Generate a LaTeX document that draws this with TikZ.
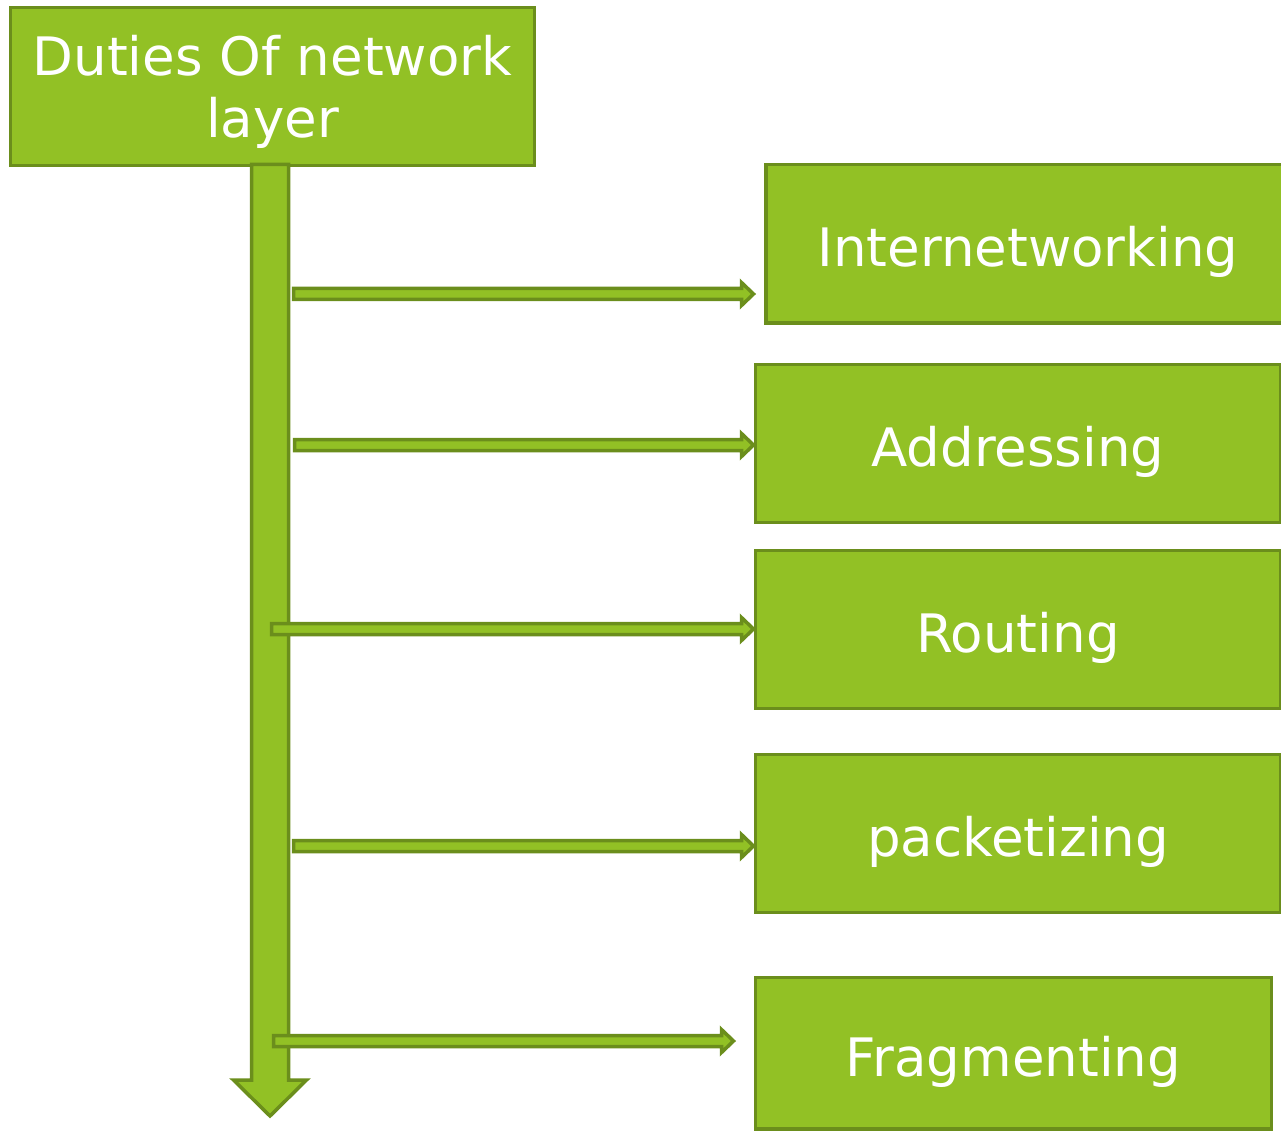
\documentclass[tikz,border=0pt]{standalone}
\usepackage{fontspec}
\setmainfont{DejaVu Sans}
\usetikzlibrary{calc}
\definecolor{leaf}{HTML}{92C125}
\definecolor{leafdark}{HTML}{6B8E1C}
\tikzset{
  boxbase/.style={draw=leafdark, fill=leaf, line width=3.5pt, inner sep=0pt,
    text=white, font=\fontsize{53}{62}\selectfont, align=center, text depth=0pt},
  dutybox/.style={boxbase, text height=46pt},
  headbox/.style={boxbase},
  blockarrow/.style={draw=leafdark, fill=leaf, line width=3.5pt, line join=miter}
}
\newcommand\harrowpath[2]{%
  \path[blockarrow] let \p1=(#1), \p2=(#2) in
    (\x1,\y1+5.5pt) -- (\x2-12pt,\y1+5.5pt) -- (\x2-12pt,\y1+11.5pt) -- (\x2,\y1)
    -- (\x2-12pt,\y1-11.5pt) -- (\x2-12pt,\y1-5.5pt) -- (\x1,\y1-5.5pt) -- cycle;}
\begin{document}
\begin{tikzpicture}[x=1pt,y=-1pt]
\useasboundingbox (0,0) rectangle (1281,1131);
\clip (0,0) rectangle (1281,1131);
% top box
\node[headbox, minimum width=524pt, minimum height=158pt] (top) at (272.5,86.5) {Duties Of network\\layer};
% vertical arrow
\coordinate (vs) at (270,164.5);
\coordinate (ve) at (270,1116);
\path[blockarrow] let \p1=(vs), \p2=(ve) in
  (\x1-18.5pt,\y1) -- (\x1+18.5pt,\y1) -- (\x1+18.5pt,\y2+36pt) -- (\x1+36.5pt,\y2+36pt)
  -- (\x2,\y2) -- (\x1-36.5pt,\y2+36pt) -- (\x1-18.5pt,\y2+36pt) -- cycle;
% duty boxes
\node[dutybox, minimum width=524pt, minimum height=158.5pt] (b1) at (1028,243.7) {Internetworking};
\node[dutybox, minimum width=525pt, minimum height=158pt] (b2) at (1018,443.5) {Addressing};
\node[dutybox, minimum width=525pt, minimum height=158pt] (b3) at (1018,629.5) {Routing};
\node[dutybox, minimum width=525pt, minimum height=158pt] (b4) at (1018,833.5) {packetizing};
\node[dutybox, minimum width=516pt, minimum height=151.5pt] (b5) at (1013.5,1053) {Fragmenting};
% horizontal arrows
\coordinate (s1) at (293.5,294);   \coordinate (e1) at (753.5,294);
\coordinate (s2) at (294.5,445);   \coordinate (e2) at (753.5,445);
\coordinate (s3) at (271.5,629);   \coordinate (e3) at (753.5,629);
\coordinate (s4) at (293.5,846);   \coordinate (e4) at (753.5,846);
\coordinate (s5) at (273.5,1041);  \coordinate (e5) at (733.5,1041);
\harrowpath{s1}{e1}
\harrowpath{s2}{e2}
\harrowpath{s3}{e3}
\harrowpath{s4}{e4}
\harrowpath{s5}{e5}
\end{tikzpicture}
\end{document}
